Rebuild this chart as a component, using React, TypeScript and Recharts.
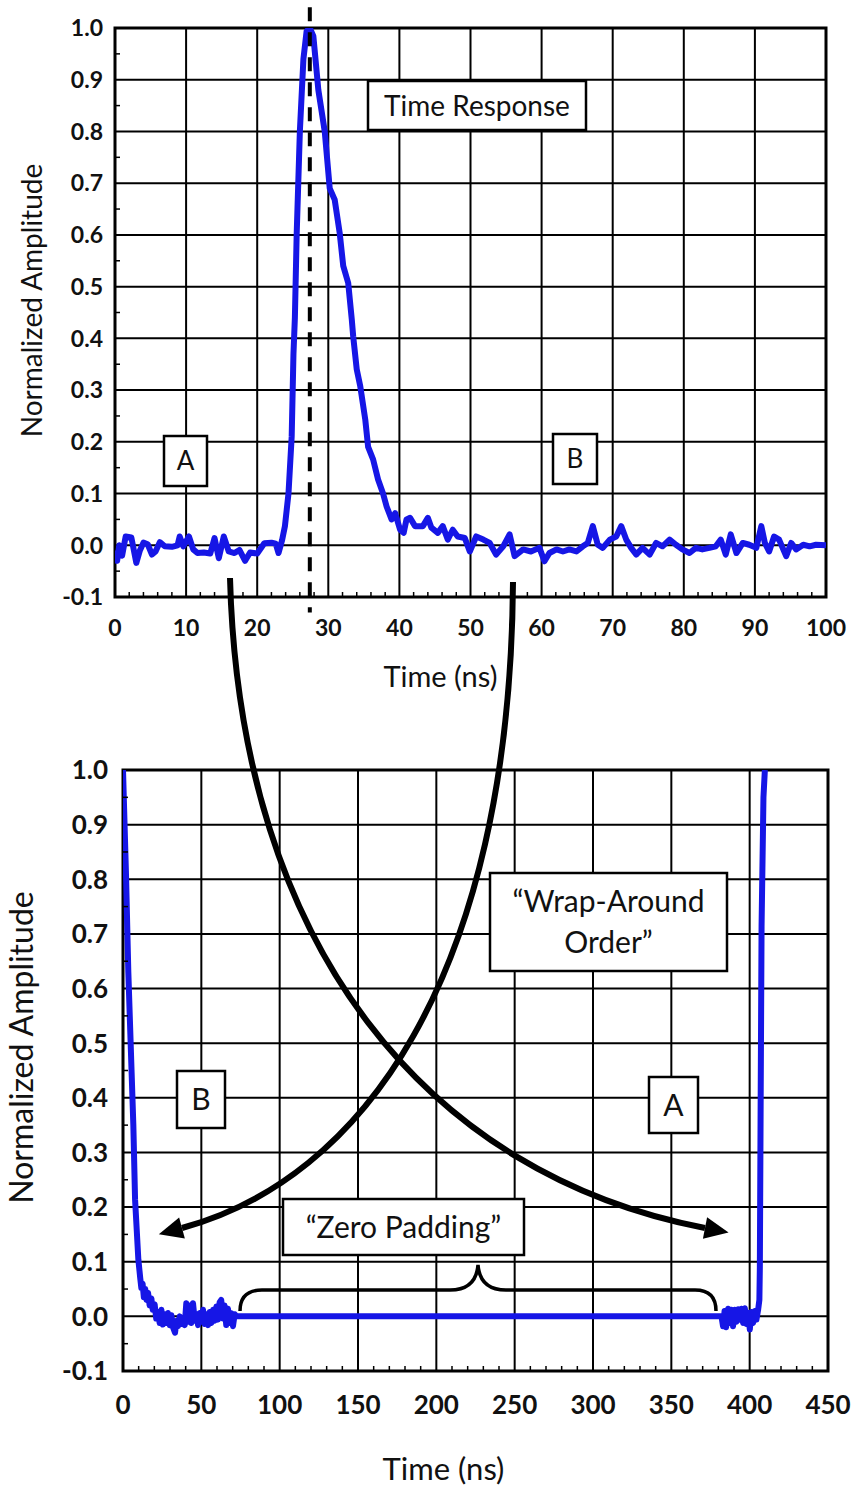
import React from 'react';
import { LineChart, Line, XAxis, YAxis, ReferenceLine, ReferenceArea, Label } from 'recharts';

// measured time response, 0-100 ns
const responseTime = [
  0, 0.3, 0.6, 1.0, 1.5, 2.3, 3.0, 3.5, 4.0, 4.6, 5.2, 5.7, 6.3, 7.0, 8.0, 8.8, 9.1, 9.6, 10.4, 11.0,
  11.6, 12.5, 13.4, 14.0, 14.6, 15.3, 16.0, 16.8, 17.5, 18.3, 19.0, 20.0, 21.0, 22.0, 22.6, 23.0, 23.5,
  23.9, 24.4, 24.85, 25.1, 25.3, 25.55, 26.0, 26.5, 26.95, 27.4, 27.9, 28.6, 29.5, 30.2, 30.9, 31.6,
  32.1, 32.8, 33.3, 33.5, 34.0, 34.5, 35.2, 35.6, 36.3, 37.0, 37.7, 38.2, 38.9, 39.4, 40.1, 40.6, 41.0,
  41.5, 42.2, 43.3, 44.0, 44.5, 45.4, 46.1, 46.8, 47.5, 48.2, 49.2, 49.9, 50.8, 51.8, 52.7, 53.6, 54.6,
  55.5, 56.2, 57.4, 58.5, 59.7, 60.4, 61.1, 62.1, 63.0, 63.9, 64.9, 65.8, 66.5, 67.2, 67.9, 68.6, 69.6,
  70.5, 71.2, 71.9, 72.6, 73.3, 74.2, 75.2, 76.1, 77.0, 78.0, 78.9, 79.8, 80.8, 81.7, 82.6, 83.6, 84.5,
  85.2, 85.9, 86.6, 87.4, 88.3, 89.2, 90.2, 90.9, 91.4, 92.0, 92.7, 93.4, 94.4, 95.1, 95.8, 96.8, 97.7,
  98.6, 100,
];
const responseAmplitude = [
  -0.01, -0.03, 0.0, -0.02, 0.017, 0.015, -0.034, -0.01, 0.005, 0.002, -0.018, -0.012, 0.006, -0.002,
  -0.003, 0.0, 0.017, -0.002, 0.017, -0.008, -0.015, -0.014, -0.016, 0.014, -0.025, 0.017, -0.012,
  -0.015, -0.009, -0.03, -0.014, -0.016, 0.004, 0.005, 0.003, -0.015, 0.01, 0.037, 0.1, 0.21, 0.37, 0.44,
  0.6, 0.8, 0.94, 0.994, 1.0, 0.984, 0.88, 0.8, 0.69, 0.668, 0.604, 0.54, 0.507, 0.437, 0.404, 0.34,
  0.307, 0.243, 0.19, 0.166, 0.127, 0.1, 0.075, 0.05, 0.062, 0.03, 0.024, 0.05, 0.053, 0.037, 0.037,
  0.053, 0.034, 0.024, 0.037, 0.011, 0.03, 0.017, 0.014, -0.012, 0.017, 0.011, 0.0045, -0.018, -0.002,
  0.021, -0.021, -0.008, -0.012, -0.005, -0.031, -0.015, -0.008, -0.012, -0.008, -0.012, -0.002, 0.0045,
  0.037, 0.001, -0.005, 0.011, 0.017, 0.037, 0.011, -0.005, -0.018, -0.005, -0.018, 0.0045, -0.002,
  0.011, 0.001, -0.008, -0.015, -0.005, -0.008, -0.005, -0.002, 0.011, -0.018, 0.021, -0.015, 0.0045,
  0.001, -0.005, 0.037, 0.0045, -0.012, 0.017, 0.011, -0.021, 0.0045, -0.008, 0.001, -0.002, 0.001, 0,
];

// the same response after zero padding, in wrap-around order
const paddedTime = [
  0, 1.9, 3.4, 5.5, 6.6, 7.7, 9.8, 11.0, 11.7, 12.5, 13.3, 14.2, 15.0, 16.0, 17.0, 18.1, 19.0, 20.2,
  21.2, 22.3, 23.4, 24.5, 25.5, 26.6, 27.7, 28.7, 29.8, 30.9, 31.9, 33.2, 34.2, 35.1, 36.2, 37.3, 38.3,
  39.4, 40.4, 41.5, 42.6, 43.6, 44.7, 45.8, 46.9, 47.9, 49.0, 50.0, 51.1, 52.1, 53.2, 54.3, 55.3, 56.4,
  57.5, 58.5, 59.6, 60.6, 61.7, 62.7, 63.8, 64.8, 65.9, 67.0, 68.0, 69.1, 70.2, 71.3, 72.5, 382.0, 383.0,
  384.0, 385.0, 386.3, 387.3, 388.4, 389.4, 390.5, 391.5, 392.6, 393.7, 394.7, 395.8, 396.9, 398.0,
  399.0, 400.1, 401.1, 402.2, 403.3, 404.3, 405.4, 406.2, 406.5, 407.0, 407.6, 408.8, 409.7,
];
const paddedAmplitude = [
  1.0, 0.81, 0.63, 0.446, 0.35, 0.214, 0.104, 0.07, 0.052, 0.06, 0.035, 0.05, 0.03, 0.043, 0.02, 0.033,
  0.012, 0.022, -0.004, 0.008, -0.012, 0.012, -0.015, 0.004, -0.012, 0.006, -0.016, 0.002, -0.02, -0.03,
  -0.008, -0.018, 0.0, -0.014, -0.002, -0.016, 0.024, -0.01, 0.02, -0.012, 0.024, -0.008, 0.004, -0.016,
  0.006, -0.01, 0.012, -0.014, 0.004, -0.016, 0.008, -0.012, 0.012, -0.008, 0.018, -0.006, 0.026, 0.03,
  -0.004, 0.02, -0.016, 0.014, -0.012, 0.006, -0.018, 0.004, 0.0, 0.0, -0.018, 0.01, -0.02, 0.014,
  -0.012, 0.012, -0.018, 0.012, -0.01, 0.013, -0.006, 0.014, -0.012, 0.015, -0.014, 0.006, -0.024,
  0.008, -0.012, 0.01, -0.006, 0.012, 0.03, 0.09, 0.385, 0.714, 0.95, 1.0,
];

const peakTime = 27.4;

const responseXTicks = [0, 10, 20, 30, 40, 50, 60, 70, 80, 90, 100];
const paddedXTicks = [0, 50, 100, 150, 200, 250, 300, 350, 400, 450];
const amplitudeTicks = [-0.1, 0, 0.1, 0.2, 0.3, 0.4, 0.5, 0.6, 0.7, 0.8, 0.9, 1.0];

const FONT = 'Lato, "Open Sans", sans-serif';
const BLUE = '#1616e6';
const INK = '#111';

const responseData = responseTime.map((t, i) => ({ t, amp: responseAmplitude[i] }));
const paddedData = paddedTime.map((t, i) => ({ t, amp: paddedAmplitude[i] }));

// small unlabeled ticks between each pair of labelled ones
const minorTicks = (major: number[], parts: number) => {
  const out: number[] = [];
  for (let i = 0; i < major.length - 1; i++) {
    const step = (major[i + 1] - major[i]) / parts;
    for (let k = 1; k < parts; k++) out.push(+(major[i] + step * k).toFixed(4));
  }
  return out;
};
const withMinor = (major: number[], parts: number) =>
  [...major, ...minorTicks(major, parts)].sort((a, b) => a - b);
const isMajor = (major: number[], v: number) => major.some((m) => Math.abs(m - v) < 1e-6);

// ticks sit on the box edge: labels outside, minor marks pointing in
const bottomTick = (major: number[], size: number, gap: number) => (props: any) => {
  const { x, y, payload } = props;
  if (!isMajor(major, payload.value)) {
    return <line x1={x} x2={x} y1={y} y2={y - 5} stroke="#000" strokeWidth={1.5} />;
  }
  return (
    <text x={x} y={y + gap + size * 0.36} textAnchor="middle" fontFamily={FONT} fontWeight={700} fontSize={size} fill={INK}>
      {payload.value}
    </text>
  );
};
const leftTick = (major: number[], size: number, gap: number) => (props: any) => {
  const { x, y, payload } = props;
  if (!isMajor(major, payload.value)) {
    return <line x1={x} x2={x + 5} y1={y} y2={y} stroke="#000" strokeWidth={1.5} />;
  }
  return (
    <text x={x - gap} y={y + size * 0.36} textAnchor="end" fontFamily={FONT} fontWeight={700} fontSize={size} fill={INK}>
      {Number(payload.value).toFixed(1)}
    </text>
  );
};

const xTitle = (dx: number, dy: number, size: number) => (props: any) => {
  const vb = props.viewBox;
  return (
    <text x={vb.x + vb.width / 2 + dx} y={vb.y + dy} textAnchor="middle" fontFamily={FONT} fontSize={size} fill={INK}>
      Time (ns)
    </text>
  );
};
const yTitle = (bx: number, dy: number, size: number) => (props: any) => {
  const vb = props.viewBox;
  const x = vb.x + bx;
  const y = vb.y + vb.height / 2 + dy;
  return (
    <text x={x} y={y} transform={`rotate(-90 ${x} ${y})`} textAnchor="middle" fontFamily={FONT} fontSize={size} fill={INK}>
      Normalized Amplitude
    </text>
  );
};

const gridLines = (xs: number[], ys: number[]) => [
  ...xs.slice(1, -1).map((v) => <ReferenceLine key={`gx${v}`} x={v} stroke="#000" strokeWidth={2} />),
  ...ys.slice(1, -1).map((v) => <ReferenceLine key={`gy${v}`} y={v} stroke="#000" strokeWidth={2} />),
];

type Pt = [number, number];
const CurvedArrow = ({ p0, p1, p2, p3 }: { p0: Pt; p1: Pt; p2: Pt; p3: Pt }) => {
  const dx = p3[0] - p2[0];
  const dy = p3[1] - p2[1];
  const len = Math.hypot(dx, dy);
  const ux = dx / len;
  const uy = dy / len;
  const tip = [p3[0] + ux * 24, p3[1] + uy * 24];
  const a = [p3[0] - uy * 11, p3[1] + ux * 11];
  const b = [p3[0] + uy * 11, p3[1] - ux * 11];
  return (
    <g>
      <path d={`M${p0} C${p1} ${p2} ${p3}`} fill="none" stroke="#000" strokeWidth={6} />
      <polygon points={`${tip} ${a} ${b}`} fill="#000" />
    </g>
  );
};

const Box = ({ x, y, w, h, lines, size }: { x: number; y: number; w: number; h: number; lines: string[]; size: number }) => {
  const lh = size * 1.37;
  const cy = y + h / 2;
  return (
    <g>
      <rect x={x} y={y} width={w} height={h} fill="#fff" stroke="#000" strokeWidth={2.5} />
      {lines.map((s, i) => (
        <text
          key={i}
          x={x + w / 2}
          y={cy + (i - (lines.length - 1) / 2) * lh + size * 0.36}
          textAnchor="middle"
          fontFamily={FONT}
          fontSize={size}
          fill={INK}
        >
          {s}
        </text>
      ))}
    </g>
  );
};

export default function App() {
  return (
    <div style={{ position: 'absolute', left: 0, top: 0, width: 853, height: 1488, background: '#fff' }}>
      <div style={{ position: 'absolute', left: 0, top: 0 }}>
        <LineChart width={853} height={700} data={responseData} margin={{ top: 28, right: 27, bottom: 0, left: 0 }}>
          <XAxis
            dataKey="t"
            type="number"
            domain={[0, 100]}
            ticks={withMinor(responseXTicks, 5)}
            interval={0}
            height={103}
            tickSize={0}
            tickMargin={0}
            axisLine={false}
            tickLine={false}
            tick={bottomTick(responseXTicks, 23, 31)}
            allowDataOverflow
          >
            <Label content={xTitle(-30, 90, 29)} />
          </XAxis>
          <YAxis
            type="number"
            domain={[-0.1, 1]}
            ticks={withMinor(amplitudeTicks, 2)}
            interval={0}
            width={115}
            tickSize={0}
            tickMargin={0}
            axisLine={false}
            tickLine={false}
            tick={leftTick(amplitudeTicks, 23, 12)}
            allowDataOverflow
          >
            <Label content={yTitle(42, -12, 28)} />
          </YAxis>
          {gridLines(responseXTicks, amplitudeTicks)}
          <ReferenceArea x1={0} x2={100} y1={-0.1} y2={1} fill="none" stroke="#000" strokeWidth={3} />
          <Line
            dataKey="amp"
            type="linear"
            stroke={BLUE}
            strokeWidth={6}
            strokeLinejoin="round"
            dot={false}
            isAnimationActive={false}
          />
          <ReferenceLine
            segment={[
              { x: peakTime, y: 1.04 },
              { x: peakTime, y: -0.13 },
            ]}
            ifOverflow="visible"
            stroke="#000"
            strokeWidth={4}
            strokeDasharray="14 11"
          />
        </LineChart>
      </div>

      <div style={{ position: 'absolute', left: 0, top: 700 }}>
        <LineChart width={853} height={788} data={paddedData} margin={{ top: 70, right: 25, bottom: 0, left: 0 }}>
          <XAxis
            dataKey="t"
            type="number"
            domain={[0, 450]}
            ticks={withMinor(paddedXTicks, 5)}
            interval={0}
            height={117}
            tickSize={0}
            tickMargin={0}
            axisLine={false}
            tickLine={false}
            tick={bottomTick(paddedXTicks, 26, 34)}
            allowDataOverflow
          >
            <Label content={xTitle(-32, 109, 31)} />
          </XAxis>
          <YAxis
            type="number"
            domain={[-0.1, 1]}
            ticks={withMinor(amplitudeTicks, 2)}
            interval={0}
            width={123}
            tickSize={0}
            tickMargin={0}
            axisLine={false}
            tickLine={false}
            tick={leftTick(amplitudeTicks, 26, 15)}
            allowDataOverflow
          >
            <Label content={yTitle(33, -23, 32)} />
          </YAxis>
          {gridLines(paddedXTicks, amplitudeTicks)}
          <ReferenceArea x1={0} x2={450} y1={-0.1} y2={1} fill="none" stroke="#000" strokeWidth={3} />
          <Line
            dataKey="amp"
            type="linear"
            stroke={BLUE}
            strokeWidth={6}
            strokeLinejoin="round"
            dot={false}
            isAnimationActive={false}
          />
        </LineChart>
      </div>

      <svg width={853} height={1488} style={{ position: 'absolute', left: 0, top: 0, pointerEvents: 'none' }}>
        <Box x={368} y={81} w={218} h={49} lines={['Time Response']} size={28} />
        <Box x={164} y={436} w={43} h={50} lines={['A']} size={26} />
        <Box x={553} y={434} w={44} h={50} lines={['B']} size={26} />
        <Box x={490} y={873} w={237} h={98} lines={['\u201CWrap-Around', 'Order\u201D']} size={30} />
        <Box x={177} y={1071} w={48} h={57} lines={['B']} size={30} />
        <Box x={649} y={1077} w={49} h={56} lines={['A']} size={30} />
        <Box x={283} y={1199} w={241} h={56} lines={['\u201CZero Padding\u201D']} size={30} />
        <path
          d="M240,1311 Q240,1290 262,1290 L450,1290 Q476,1290 478,1265 Q480,1290 506,1290 L695,1290 Q716,1290 716,1311"
          fill="none"
          stroke="#000"
          strokeWidth={3.5}
        />
        <CurvedArrow p0={[230, 578]} p1={[240, 950]} p2={[430, 1175]} p3={[705, 1228]} />
        <CurvedArrow p0={[513, 582]} p1={[510, 980]} p2={[360, 1180]} p3={[182, 1228]} />
      </svg>
    </div>
  );
}
